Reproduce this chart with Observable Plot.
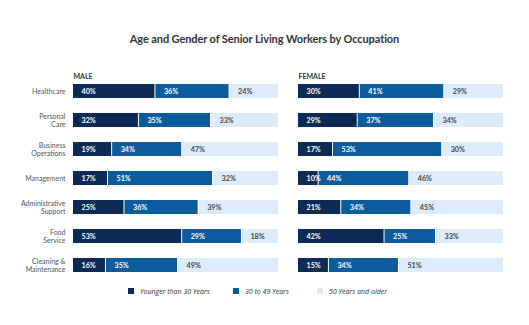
<!DOCTYPE html>
<html>
<head>
<meta charset="utf-8">
<script src="https://cdn.jsdelivr.net/npm/d3@7"></script>
<script src="https://cdn.jsdelivr.net/npm/@observablehq/plot@0.6"></script>
<style>
  html, body { margin: 0; padding: 0; background: #fff; }
  body { width: 529px; height: 325px; position: relative; overflow: hidden; font-family: Lato, "Open Sans", sans-serif; }
  #title { position: absolute; top: 32px; left: 0; width: 529px; text-align: center; font-size: 11px; font-weight: 700; color: #333; letter-spacing: -0.1px; }
  #chart { position: absolute; top: 55px; left: 0; }
  #legend { position: absolute; top: 286px; left: 0; width: 529px; height: 12px; font-size: 7px; font-style: italic; color: #333; font-family: "Open Sans", sans-serif; }
  .li { position: absolute; top: 0; display: flex; align-items: center; height: 10px; }
  .sw { width: 6px; height: 6px; margin-right: 6px; display: inline-block; }
</style>
</head>
<body>
<div id="title">Age and Gender of Senior Living Workers by Occupation</div>
<div id="chart"></div>
<div id="legend"></div>
<script>
const occupations = ["Healthcare", "Personal\nCare", "Business\nOperations", "Management", "Administrative\nSupport", "Food\nService", "Cleaning &\nMaintenance"];
const genders = ["MALE", "FEMALE"];
const ageGroups = ["Younger than 30 Years", "30 to 49 Years", "50 Years and older"];
const colors = ["#0b2a55", "#0c5b9d", "#ddecfa"];
const labelColors = ["#ffffff", "#ffffff", "#444444"];

const maleUnder30 = [40, 32, 19, 17, 25, 53, 16];
const male30to49 = [36, 35, 34, 51, 36, 29, 35];
const male50plus = [24, 33, 47, 32, 39, 18, 49];
const femaleUnder30 = [30, 29, 17, 10, 21, 42, 15];
const female30to49 = [41, 37, 53, 44, 34, 25, 34];
const female50plus = [29, 34, 30, 46, 45, 33, 51];

const series = {
  MALE: [maleUnder30, male30to49, male50plus],
  FEMALE: [femaleUnder30, female30to49, female50plus]
};

const data = [];
for (const g of genders) {
  occupations.forEach((occ, i) => {
    ageGroups.forEach((age, k) => {
      data.push({gender: g, occupation: occ, age, value: series[g][k][i], k});
    });
  });
}

const font = "Lato, 'Open Sans', sans-serif";

const chart = Plot.plot({
  width: 529,
  height: 230,
  marginLeft: 73,
  marginRight: 24,
  marginTop: 28,
  marginBottom: 12,
  style: {fontFamily: font, background: "transparent"},
  fx: {domain: genders, paddingInner: 0.0843, paddingOuter: 0, axis: null},
  x: {domain: [0, 100], axis: null},
  y: {domain: occupations, paddingInner: 0.523, paddingOuter: 0, label: null, tickSize: 0, tickPadding: 8},
  color: {domain: ageGroups, range: colors},
  marks: [
    Plot.axisY({tickSize: 0, tickPadding: 8, fontSize: 7, fill: "#555", label: null, lineHeight: 1.2}),
    Plot.barX(data, Plot.stackX({
      x: "value", y: "occupation", fx: "gender", fill: "age", z: "age",
      order: ageGroups, insetRight: 1
    })),
    Plot.text(data, Plot.stackX1({
      x: "value", y: "occupation", fx: "gender", z: "age", order: ageGroups,
      text: d => d.value + "%",
      fill: d => labelColors[d.k],
      textAnchor: "start", dx: 8, fontSize: 7.2, fontWeight: 700
    })),
    Plot.text(genders, {
      fx: d => d, x: 0, y: () => occupations[0], text: d => d,
      textAnchor: "start", dy: -15, fontSize: 7, fontWeight: 700, fill: "#333"
    })
  ]
});
document.getElementById("chart").appendChild(chart);

const legendX = [128, 233, 317];
const legend = document.getElementById("legend");
ageGroups.forEach((a, i) => {
  const el = document.createElement("div");
  el.className = "li";
  el.style.left = legendX[i] + "px";
  el.innerHTML = `<span class="sw" style="background:${colors[i]}"></span><span>${a}</span>`;
  legend.appendChild(el);
});
</script>
</body>
</html>
